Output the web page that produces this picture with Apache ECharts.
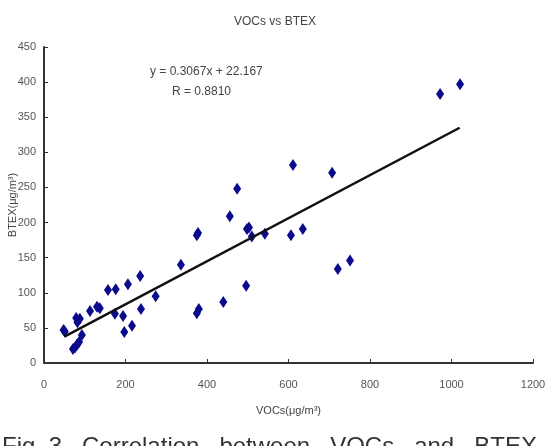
<!DOCTYPE html>
<html>
<head>
<meta charset="utf-8">
<script src="https://cdn.jsdelivr.net/npm/echarts@6/dist/echarts.min.js"></script>
<style>
    html, body { margin: 0; padding: 0; background: #fff; }
    #main { width: 550px; height: 446px; }
</style>
</head>
<body>
<div id="main"></div>
<script>
// 数据: VOCs (x) 与 BTEX (y)
var vocs = [48, 51, 71, 76, 81, 86, 93, 79, 88, 82, 113, 130, 137, 157, 176, 174, 194, 197, 206, 216,
    236, 238, 274, 336, 375, 378, 375, 380, 440, 456, 474, 496, 498, 503, 510, 542,
    606, 611, 635, 707, 721, 751, 972, 1021];
var btex = [47, 45, 20, 22, 26, 30, 40, 64, 63, 58, 74, 80, 78, 104, 105, 70, 67, 44, 112, 53,
    124, 77, 95, 140, 182, 185, 71, 77, 87, 209, 248, 110, 191, 193, 180, 184,
    182, 282, 191, 271, 134, 146, 383, 397];

// 回归线
var slope = 0.3067;
var intercept = 22.167;
var fitX = [50, 1020];

var xTicks = [0, 200, 400, 600, 800, 1000, 1200];
var yTicks = [0, 50, 100, 150, 200, 250, 300, 350, 400, 450];

var font = "'Liberation Sans Narrow', 'Liberation Sans', Arial, sans-serif";

function addScatterChart(container_id) {
    var myChart = echarts.init(document.getElementById(container_id));

    var points = [];
    for (var i = 0; i < vocs.length; i++) {
        points.push([vocs[i], btex[i]]);
    }
    var line = fitX.map(function (x) { return [x, slope * x + intercept]; });

    var option = {
        animation: false,
        title: {
            text: 'VOCs vs BTEX',
            left: 'center',
            top: 11,
            textStyle: { fontSize: 12, fontWeight: 'normal', color: '#444', fontFamily: font }
        },
        grid: { left: 44, right: 17, top: 47, bottom: 83, containLabel: false, outerBoundsMode: 'none' },
        xAxis: {
            type: 'value',
            min: xTicks[0], max: xTicks[xTicks.length - 1], interval: 200,
            name: 'VOCs(μg/m³)',
            nameLocation: 'middle',
            nameGap: 42,
            nameMoveOverlap: false,
            nameTextStyle: { fontSize: 11, color: '#444', fontFamily: font },
            axisLine: { lineStyle: { color: '#333', width: 2 } },
            axisTick: { inside: true, length: 4, lineStyle: { color: '#333' } },
            axisLabel: { fontSize: 11, color: '#555', margin: 16, fontFamily: font,
                formatter: function (v) { return String(v); } },
            splitLine: { show: false }
        },
        yAxis: {
            type: 'value',
            min: yTicks[0], max: yTicks[yTicks.length - 1], interval: 50,
            name: 'BTEX(μg/m³)',
            nameLocation: 'middle',
            nameGap: 26,
            nameMoveOverlap: false,
            nameTextStyle: { fontSize: 11, color: '#444', fontFamily: font },
            axisLine: { show: true, lineStyle: { color: '#333', width: 2 } },
            axisTick: { show: true, inside: true, length: 4, lineStyle: { color: '#333' } },
            axisLabel: { fontSize: 11, color: '#555', margin: 8, fontFamily: font },
            splitLine: { show: false }
        },
        series: [
            {
                name: 'data',
                type: 'scatter',
                data: points,
                symbol: 'diamond',
                symbolSize: [8, 12],
                itemStyle: { color: '#0a0a8c', opacity: 1 }
            },
            {
                name: 'fit',
                type: 'line',
                data: line,
                symbol: 'none',
                lineStyle: { color: '#111', width: 2.5 },
                z: 3
            }
        ],
        graphic: [
            {
                type: 'text', left: 150, top: 66,
                style: { text: 'y = 0.3067x + 22.167', fontSize: 12, fill: '#444', fontFamily: font }
            },
            {
                type: 'text', left: 172, top: 86,
                style: { text: 'R = 0.8810', fontSize: 12, fill: '#444', fontFamily: font }
            },
            {
                type: 'text', left: 2, top: 435,
                style: { text: 'Fig. 3   Correlation   between   VOCs   and   BTEX', fontSize: 24, fill: '#333', fontFamily: "'Liberation Sans', Arial, sans-serif" }
            }
        ]
    };
    myChart.setOption(option);
}

addScatterChart('main');
</script>
</body>
</html>
